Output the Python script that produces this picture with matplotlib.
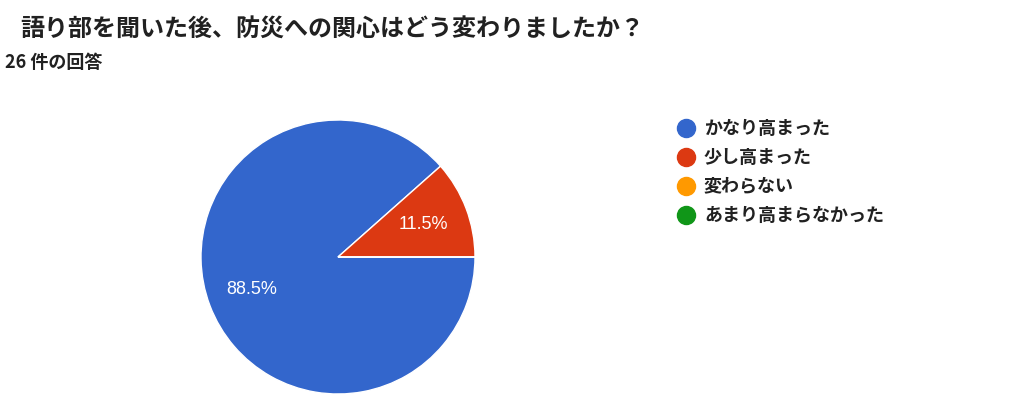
import matplotlib
matplotlib.use("Agg")
import matplotlib.pyplot as plt
from matplotlib.lines import Line2D

plt.rcParams['font.family'] = ['Noto Sans CJK JP', 'DejaVu Sans']

# データ
title = "語り部を聞いた後、防災への関心はどう変わりましたか？"
subtitle = "26 件の回答"
labels = ['かなり高まった', '少し高まった', '変わらない', 'あまり高まらなかった']
counts = [23, 3, 0, 0]
colors = ['#3366cc', '#dc3912', '#ff9900', '#109618']

W, H = 1024, 411
fig = plt.figure(figsize=(W / 100, H / 100), dpi=100)

# 円グラフ (中心 338,257 / 半径 137 px)
cx, cy, r = 338, 257, 137
ax = fig.add_axes([(cx - r) / W, (H - cy - r) / H, 2 * r / W, 2 * r / H])
ax.pie(counts, colors=colors, startangle=0, counterclock=False,
       autopct=lambda p: f'{p:.1f}%' if p > 0 else '',
       pctdistance=0.67,
       textprops={'color': 'white', 'fontsize': 13, 'family': ['Liberation Sans', 'DejaVu Sans']},
       wedgeprops={'edgecolor': 'white', 'linewidth': 1})
ax.set_xlim(-1, 1)
ax.set_ylim(-1, 1)
ax.set_aspect('equal')
ax.axis('off')

fig.text(20 / W, 1 - 30 / H, title, fontsize=17.3, fontweight='bold',
         color='#212121', va='center', ha='left')
fig.text(5 / W, 1 - 62 / H, subtitle, fontsize=13, fontweight='bold',
         color='#212121', va='center', ha='left')

# 凡例
for i, (lab, col) in enumerate(zip(labels, colors)):
    y = 1 - (128 + i * 29) / H
    fig.add_artist(Line2D([686 / W], [y], marker='o', markersize=13,
                          color=col, transform=fig.transFigure))
    fig.text(704 / W, y, lab, fontsize=13, fontweight='bold',
             color='#212121', va='center', ha='left')

fig.savefig('out.png', dpi=100)
